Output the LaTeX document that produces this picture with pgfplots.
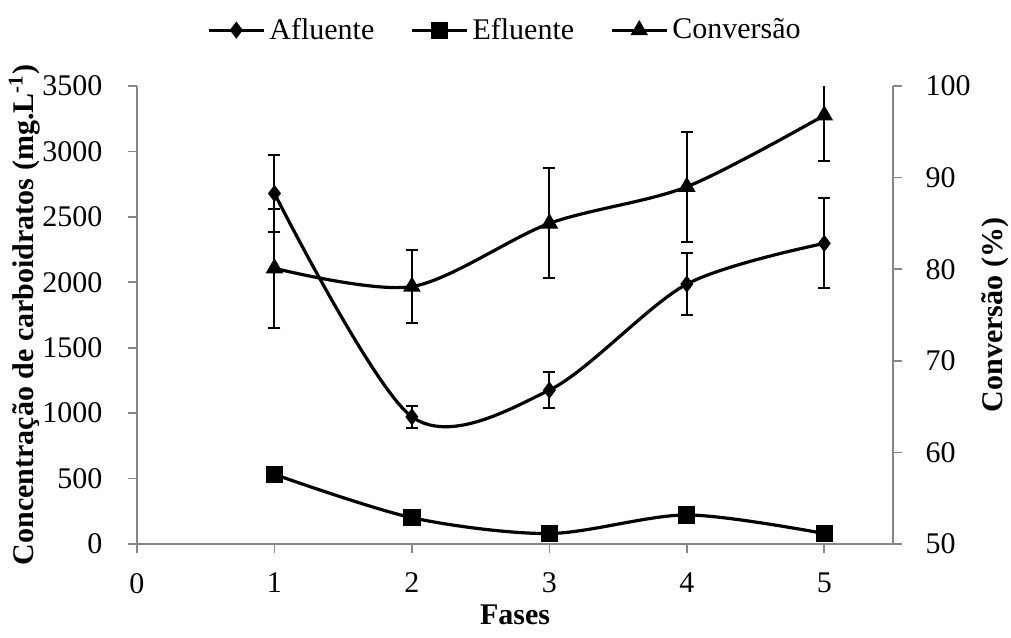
\documentclass[border=0pt]{standalone}
\usepackage{fontspec}
\setmainfont{Liberation Serif}
\usepackage{pgfplots}
\pgfplotsset{compat=1.18}
\usepackage{pgfplotstable}
\definecolor{axgray}{RGB}{134,134,134}

\pgfplotstableread{
x y e
1 2679 293
2 972 85
3 1176 138
4 1986 238
5 2297 344
}\afluente
\pgfplotstableread{
x y
1 532
2 201
3 80
4 222
5 80
}\efluente
\pgfplotstableread{
x y e
1 80.1 6.5
2 78.1 4.0
3 85.0 6.0
4 89.0 6.0
5 96.8 5.0
}\conversao

\begin{document}
\begin{tikzpicture}
\pgfplotsset{
  base/.style={
    scale only axis, width=378pt, height=229pt,
    xmin=0, xmax=5.5,
    font=\fontsize{15}{18}\selectfont,
    /pgf/number format/assume math mode=true,
    /pgf/number format/1000 sep={},
    axis line style={axgray, line width=0.8pt},
    tick style={axgray, line width=0.8pt},
    tick align=outside, major tick length=4.25pt,
    hide obscured x ticks=false, hide obscured y ticks=false,
    clip=true,
  },
  line/.style={black, line width=1.6pt, smooth, tension=0.5},
  eb/.style={error bars/.cd, y dir=both, y explicit,
    error bar style={line width=1pt, black, solid},
    error mark options={rotate=90, mark size=3pt, line width=1pt, black}},
}
\begin{axis}[base,
  axis x line*=bottom, axis y line*=left,
  ymin=0, ymax=3500, ytick={0,500,...,3500},
  xtick={0,1,2,3,4,5},
  xticklabels={0,1,2,3,4,5},
  xticklabel style={yshift=-6.75pt},
  yticklabel style={xshift=-9.5pt},
  xlabel={\textbf{Fases}},
  ylabel={\textbf{Concentração de carboidratos (mg.L\textsuperscript{-1})}},
  xlabel style={at={(axis description cs:0.5,0)}, anchor=center, yshift=-35.5pt},
  ylabel style={at={(axis description cs:-0.149,0.5)}, anchor=center},
  legend style={draw=none, fill=none, at={(axis description cs:0.488,1.122)}, anchor=center,
    legend columns=3, font=\fontsize{15}{18}\selectfont,
    /tikz/every even column/.append style={column sep=16pt}},
  legend image code/.code={\draw[mark repeat=2,mark phase=2,#1] plot coordinates {(0pt,0pt) (13.75pt,0pt) (27.5pt,0pt)};},
]
\addplot[line, mark=diamond*, mark size=3pt, mark options={solid}, eb] table[x=x, y=y, y error=e] {\afluente};
\addlegendentry{Afluente}
\addplot[line, mark=square*, mark size=3.5pt, mark options={solid}] table[x=x, y=y] {\efluente};
\addlegendentry{Efluente}
\addlegendimage{black, line width=1.6pt, mark=triangle*, mark size=3.5pt}
\addlegendentry{Conversão}
\end{axis}
\begin{axis}[base,
  axis y line*=right, axis x line=none,
  ymin=50, ymax=100, ytick={50,60,...,100},
  yticklabel style={xshift=8.5pt},
  ylabel={\textbf{Conversão (\%)}},
  ylabel style={at={(axis description cs:1.135,0.5)}, anchor=center},
]
\addplot[line, mark=triangle*, mark size=3.5pt, mark options={solid}, eb] table[x=x, y=y, y error=e] {\conversao};
\end{axis}
\pgfresetboundingbox
\useasboundingbox (-68.5pt,-46.5pt) rectangle (437pt,272pt);
\end{tikzpicture}
\end{document}
